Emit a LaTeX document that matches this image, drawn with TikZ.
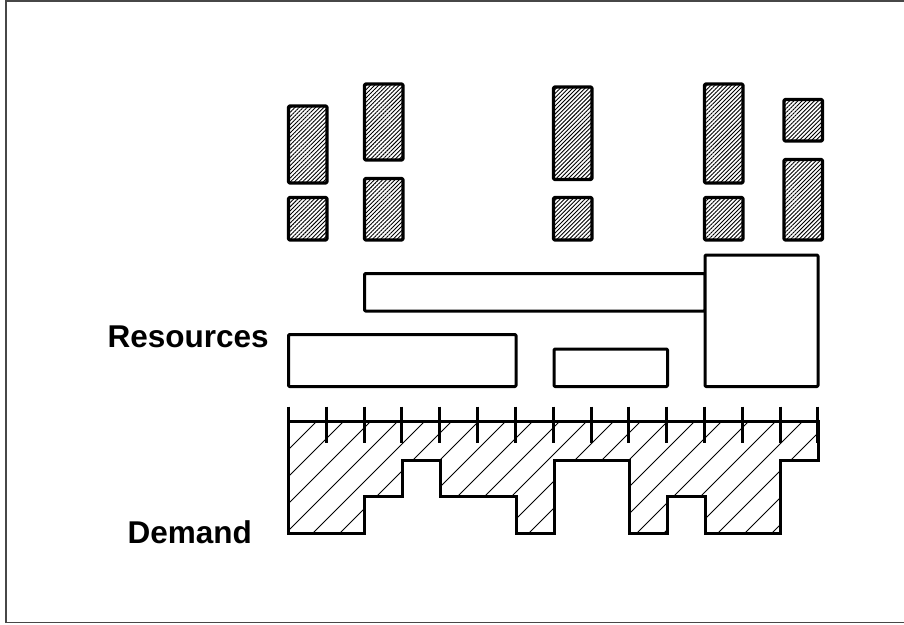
\documentclass[tikz,border=0pt]{standalone}
\usepackage{fontspec}
\setmainfont{Liberation Sans}
\usetikzlibrary{patterns.meta}
\begin{document}
\begin{tikzpicture}[x=1pt,y=-1pt,
  blk/.style={draw=black, line width=3.2pt, rounded corners=1.2pt, line join=round,
    pattern={Lines[angle=45,distance=2.9pt,line width=0.9pt]}},
  res/.style={draw=black, line width=3pt, fill=white, rounded corners=1pt, line join=round},
  prof/.style={draw=black, line width=3pt, line join=miter},
  hatch/.style={line width=0.8pt},
  tick/.style={line width=3pt},
  lbl/.style={font=\bfseries\fontsize{31.5}{31.5}\selectfont, inner sep=0pt}]
\useasboundingbox (0,0) rectangle (904,624);
% frame
\draw[line width=1.5pt, draw=black!72] (905,0.75) -- (6,0.75) -- (6,622.5) -- (905,622.5);
% top hatched blocks
\draw[blk] (288.5,106) rectangle (327,183);
\draw[blk] (288.5,197.5) rectangle (327,240);
\draw[blk] (364.5,84) rectangle (403,160);
\draw[blk] (364.5,178.5) rectangle (403,240);
\draw[blk] (553.5,87) rectangle (592,179.5);
\draw[blk] (553.5,197.5) rectangle (592,240);
\draw[blk] (704.5,84) rectangle (743,183);
\draw[blk] (704.5,197.5) rectangle (743,240);
\draw[blk] (784,99.5) rectangle (822.5,141);
\draw[blk] (784,159.5) rectangle (822.5,240);
% resources
\draw[res] (364.5,273.5) rectangle (705,311);
\draw[res] (705,255) rectangle (818,386.5);
\draw[res] (288.5,334.5) rectangle (516,386.5);
\draw[res] (554,349) rectangle (667.5,386.5);
% demand
\def\prfpath{(288.5,421) -- (288.5,533) -- (364.5,533) -- (364.5,496) -- (402.5,496) -- (402.5,460) -- (440.5,460) -- (440.5,496) -- (516,496) -- (516,533) -- (554,533) -- (554,460) -- (629.5,460) -- (629.5,533) -- (667.5,533) -- (667.5,496) -- (705,496) -- (705,533) -- (780.5,533) -- (780.5,460) -- (818,460) -- (818,421) -- cycle}
\begin{scope}
  \clip \prfpath;
  \foreach \k in {-12,...,20} {
    \draw[hatch] ({313+27*\k},533) -- ({313+27*\k+140},393);
  }
\end{scope}
\draw[prof] (288.5,421) -- (288.5,533) -- (364.5,533) -- (364.5,496) -- (402.5,496) -- (402.5,460) -- (440.5,460) -- (440.5,496) -- (516,496) -- (516,533) -- (554,533) -- (554,460) -- (629.5,460) -- (629.5,533) -- (667.5,533) -- (667.5,496) -- (705,496) -- (705,533) -- (780.5,533) -- (780.5,460) -- (818,460) -- (818,421);
\draw[prof] (287,421) -- (819.5,421);
\foreach \i in {0,...,14} {
  \draw[tick] ({288.5+37.82*\i},406.5) -- ({288.5+37.82*\i},443);
}
% labels
\node[lbl, anchor=base west] (res) at (107.5,347.5) {Resources};
\node[lbl, anchor=base west] (dem) at (127.5,543.5) {Demand};
\end{tikzpicture}
\end{document}
